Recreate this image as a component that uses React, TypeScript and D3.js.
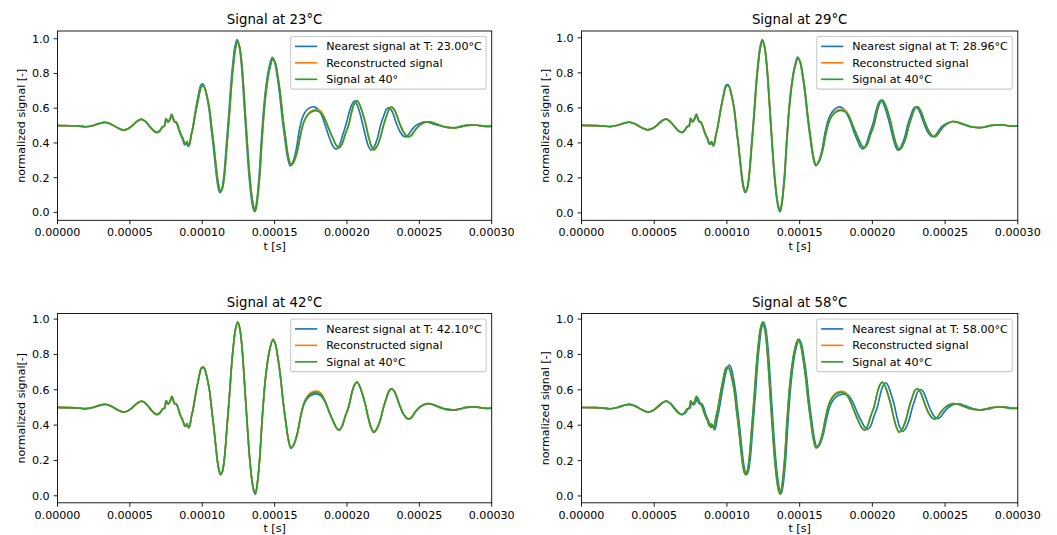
import React, { useEffect, useRef } from 'react';
import * as d3 from 'd3';

type Pt = [number, number]; // [time in µs, normalized value]

const xTicksUs = [0, 50, 100, 150, 200, 250, 300];
const yTicks = [0, 0.2, 0.4, 0.6, 0.8, 1.0];

const signal40: Pt[] = [[0,0.500],[10,0.499],[15,0.497],[19.5,0.493],[24,0.499],[28.5,0.511],[33,0.518],[37,0.508],[41.5,0.487],[45.5,0.474],[49,0.483],[52,0.502],[55.5,0.527],[58.3,0.536],[61,0.522],[64,0.493],[67,0.467],[69,0.460],[71,0.472],[72.6,0.492],[74,0.497],[75.1,0.538],[76.5,0.520],[78,0.540],[79,0.563],[80,0.540],[81,0.522],[82,0.520],[83.2,0.500],[84.3,0.470],[85.5,0.445],[86.7,0.425],[87.8,0.398],[88.6,0.395],[89.4,0.408],[90.2,0.392],[90.8,0.386],[91.6,0.405],[92.5,0.448],[93.5,0.483],[94.5,0.530],[95.9,0.597],[97.2,0.650],[98.3,0.695],[99.3,0.722],[100.5,0.728],[101.6,0.720],[103,0.680],[105,0.597],[106.5,0.490],[108,0.388],[109.5,0.270],[110.8,0.180],[112,0.132],[112.8,0.120],[114,0.140],[115.4,0.218],[117,0.380],[118.9,0.578],[120.3,0.740],[121.7,0.862],[123,0.945],[124.5,0.983],[126,0.945],[127.6,0.830],[129.2,0.640],[130.9,0.426],[132.7,0.220],[134.4,0.085],[135.6,0.030],[136.7,0.010],[137.9,0.060],[139.6,0.200],[141.3,0.420],[143.1,0.615],[144.8,0.740],[146.5,0.824],[148.9,0.885],[150.5,0.860],[152.3,0.780],[154.1,0.672],[155.8,0.540],[157.6,0.426],[159.5,0.320],[161.3,0.272],[163.2,0.290],[165.6,0.350],[168,0.450],[170.2,0.520],[172.5,0.556],[175,0.576],[178.2,0.586],[181.5,0.576],[183.5,0.556],[185.1,0.530],[188,0.470],[190.8,0.417],[192.8,0.384],[194.6,0.372],[196.5,0.392],[198.8,0.450],[201.1,0.502],[203.6,0.590],[205.3,0.630],[206.9,0.644],[208.6,0.624],[210.5,0.580],[212.6,0.520],[214.5,0.450],[216.5,0.390],[218.5,0.360],[220.3,0.375],[222.9,0.426],[225.2,0.500],[227.5,0.559],[229.2,0.596],[231,0.606],[232.8,0.590],[234.4,0.559],[236.5,0.510],[239,0.464],[241.2,0.440],[243.1,0.436],[245,0.448],[247,0.473],[249.5,0.497],[252.8,0.515],[255.5,0.522],[258,0.520],[261,0.512],[264.2,0.502],[268,0.492],[271.5,0.488],[274.5,0.487],[278,0.492],[282,0.500],[286,0.503],[290,0.502],[294,0.497],[297.5,0.495],[300,0.497]];

const reconstructed: Pt[] = [[0,0.500],[10,0.499],[15,0.497],[19.5,0.493],[24,0.499],[28.5,0.511],[33,0.518],[37,0.508],[41.5,0.487],[45.5,0.474],[49,0.483],[52,0.502],[55.5,0.527],[58.3,0.536],[61,0.522],[64,0.493],[67,0.467],[69,0.460],[71,0.472],[72.6,0.492],[74,0.497],[75.1,0.538],[76.5,0.520],[78,0.540],[79,0.563],[80,0.540],[81,0.522],[82,0.520],[83.2,0.500],[84.3,0.470],[85.5,0.445],[86.7,0.425],[87.8,0.398],[88.6,0.395],[89.4,0.408],[90.2,0.392],[90.8,0.386],[91.6,0.405],[92.5,0.448],[93.5,0.483],[94.5,0.530],[95.9,0.597],[97.2,0.650],[98.3,0.695],[99.3,0.722],[100.5,0.728],[101.6,0.720],[103,0.680],[105,0.597],[106.5,0.490],[108,0.388],[109.5,0.270],[110.8,0.180],[112,0.132],[112.8,0.120],[114,0.140],[115.4,0.218],[117,0.380],[118.9,0.578],[120.3,0.740],[121.7,0.862],[123,0.945],[124.5,0.983],[126,0.945],[127.6,0.830],[129.2,0.640],[130.9,0.426],[132.7,0.220],[134.4,0.085],[135.6,0.030],[136.7,0.010],[137.9,0.060],[139.6,0.200],[141.3,0.420],[143.1,0.615],[144.8,0.740],[146.5,0.824],[148.9,0.885],[150.5,0.860],[152.3,0.780],[154.1,0.672],[155.8,0.540],[157.6,0.426],[159.5,0.320],[161.3,0.272],[163.2,0.290],[165.6,0.350],[168,0.450],[170.2,0.522],[172.5,0.560],[175,0.583],[178.5,0.592],[181.5,0.585],[183.5,0.562],[185.1,0.532],[188,0.470],[190.8,0.417],[192.8,0.384],[194.6,0.372],[196.5,0.392],[198.8,0.450],[201.1,0.502],[203.6,0.590],[205.3,0.630],[206.9,0.644],[208.6,0.624],[210.5,0.580],[212.6,0.520],[214.5,0.450],[216.5,0.390],[218.5,0.360],[220.3,0.375],[222.9,0.426],[225.2,0.500],[227.5,0.559],[229.2,0.596],[231,0.606],[232.8,0.590],[234.4,0.559],[236.5,0.510],[239,0.464],[241.2,0.440],[243.1,0.436],[245,0.448],[247,0.473],[249.5,0.497],[252.8,0.515],[255.5,0.522],[258,0.520],[261,0.512],[264.2,0.502],[268,0.492],[271.5,0.488],[274.5,0.487],[278,0.492],[282,0.500],[286,0.503],[290,0.502],[294,0.497],[297.5,0.495],[300,0.497]];

const nearest23: Pt[] = [[0,0.500],[10,0.499],[15,0.497],[19.5,0.493],[24,0.499],[28.5,0.511],[33,0.519],[37,0.508],[41.5,0.487],[45.3,0.474],[49,0.483],[52,0.503],[55.3,0.528],[58,0.537],[60.8,0.522],[63.8,0.493],[66.8,0.467],[68.8,0.459],[70.8,0.472],[72.4,0.492],[73.8,0.497],[74.9,0.540],[76.3,0.522],[77.8,0.542],[78.8,0.565],[79.8,0.540],[80.8,0.522],[81.8,0.518],[83,0.498],[84.1,0.468],[85.3,0.442],[86.5,0.420],[87.6,0.392],[88.4,0.390],[89.2,0.403],[90,0.385],[90.6,0.380],[91.4,0.400],[92.3,0.445],[93.3,0.482],[94.3,0.532],[95.6,0.602],[96.9,0.658],[98,0.705],[99,0.732],[100.1,0.740],[101.2,0.730],[102.6,0.688],[104.6,0.600],[106.1,0.490],[107.6,0.385],[109.1,0.265],[110.4,0.173],[111.6,0.125],[112.4,0.113],[113.6,0.135],[115,0.215],[116.6,0.380],[118.5,0.582],[119.9,0.748],[121.3,0.870],[122.6,0.955],[124.1,0.995],[125.6,0.955],[127.2,0.836],[128.8,0.642],[130.5,0.424],[132.3,0.215],[134,0.078],[135.2,0.022],[136.3,0.004],[137.5,0.055],[139.2,0.198],[140.9,0.422],[142.7,0.620],[144.4,0.748],[146.1,0.832],[148.4,0.893],[150,0.866],[151.8,0.784],[153.6,0.672],[155.3,0.538],[157.1,0.422],[159,0.316],[160.8,0.268],[162.7,0.292],[165,0.365],[167,0.470],[169.2,0.545],[171.5,0.583],[174.3,0.603],[177.3,0.608],[180.5,0.590],[182.5,0.560],[184.2,0.520],[187,0.450],[189.5,0.395],[191.3,0.370],[192.8,0.365],[194.7,0.385],[197,0.445],[199.5,0.510],[202,0.590],[203.6,0.625],[205.2,0.642],[206.9,0.620],[208.8,0.575],[210.8,0.510],[212.8,0.440],[214.8,0.382],[216.7,0.358],[218.5,0.373],[221,0.425],[223.3,0.505],[225.6,0.560],[227.3,0.595],[229,0.604],[230.8,0.588],[232.4,0.556],[234.5,0.505],[237,0.460],[239.2,0.438],[241,0.436],[242.9,0.452],[245,0.478],[247.5,0.500],[251,0.515],[254,0.521],[257,0.517],[260,0.508],[263.5,0.500],[267.5,0.492],[271,0.488],[274.5,0.488],[278,0.494],[282,0.501],[286,0.504],[290,0.502],[294,0.497],[297.5,0.495],[300,0.497]];

const nearest29: Pt[] = [[0,0.500],[10,0.499],[15,0.497],[19.5,0.493],[24,0.499],[28.5,0.511],[33,0.519],[37,0.508],[41.5,0.487],[45.4,0.474],[49,0.483],[52,0.502],[55.4,0.528],[58.2,0.537],[60.9,0.522],[63.9,0.493],[66.9,0.467],[68.9,0.459],[70.9,0.472],[72.5,0.492],[73.9,0.497],[75,0.540],[76.4,0.521],[77.9,0.541],[78.9,0.564],[79.9,0.540],[80.9,0.522],[81.9,0.519],[83.1,0.499],[84.2,0.469],[85.4,0.443],[86.6,0.422],[87.7,0.395],[88.5,0.392],[89.3,0.405],[90.1,0.388],[90.7,0.383],[91.5,0.402],[92.4,0.446],[93.4,0.483],[94.4,0.531],[95.8,0.600],[97.1,0.654],[98.2,0.700],[99.2,0.728],[100.3,0.735],[101.4,0.726],[102.8,0.685],[104.8,0.598],[106.3,0.490],[107.8,0.386],[109.3,0.268],[110.6,0.176],[111.8,0.128],[112.6,0.116],[113.8,0.137],[115.2,0.216],[116.8,0.380],[118.7,0.580],[120.1,0.744],[121.5,0.866],[122.8,0.950],[124.3,0.990],[125.8,0.950],[127.4,0.833],[129,0.641],[130.7,0.425],[132.5,0.218],[134.2,0.082],[135.4,0.026],[136.5,0.007],[137.7,0.058],[139.4,0.199],[141.1,0.421],[142.9,0.618],[144.6,0.744],[146.3,0.828],[148.6,0.890],[150.2,0.863],[152,0.782],[153.8,0.672],[155.5,0.539],[157.3,0.424],[159.2,0.318],[161,0.270],[162.9,0.291],[165.3,0.357],[167.5,0.460],[169.7,0.532],[172,0.572],[174.8,0.597],[177.8,0.606],[181,0.588],[183,0.558],[184.7,0.525],[187.5,0.460],[190.2,0.405],[192,0.374],[193.7,0.366],[195.6,0.388],[197.9,0.448],[200.3,0.506],[202.8,0.592],[204.4,0.630],[206,0.645],[207.7,0.622],[209.6,0.578],[211.7,0.515],[213.7,0.445],[215.7,0.386],[217.6,0.358],[219.4,0.374],[222,0.426],[224.3,0.503],[226.6,0.560],[228.3,0.596],[230.1,0.606],[231.9,0.589],[233.5,0.557],[235.6,0.508],[238.1,0.462],[240.3,0.439],[242.1,0.436],[244,0.450],[246,0.475],[248.5,0.498],[252,0.515],[255,0.522],[258,0.518],[261,0.509],[264,0.501],[268,0.492],[271.5,0.488],[274.5,0.488],[278,0.493],[282,0.500],[286,0.503],[290,0.502],[294,0.497],[297.5,0.495],[300,0.497]];

const nearest42: Pt[] = [[0,0.499],[10,0.498],[15,0.496],[19.5,0.492],[24,0.498],[28.5,0.510],[33,0.517],[37,0.507],[41.5,0.486],[45.5,0.473],[49,0.482],[52,0.501],[55.5,0.526],[58.3,0.535],[61,0.521],[64,0.492],[67,0.466],[69,0.459],[71,0.471],[72.6,0.491],[74,0.496],[75.1,0.537],[76.5,0.519],[78,0.539],[79,0.562],[80,0.539],[81,0.521],[82,0.519],[83.2,0.499],[84.3,0.469],[85.5,0.444],[86.7,0.424],[87.8,0.397],[88.6,0.394],[89.4,0.407],[90.2,0.391],[90.8,0.385],[91.6,0.404],[92.5,0.447],[93.5,0.482],[94.5,0.529],[95.9,0.596],[97.2,0.649],[98.3,0.694],[99.3,0.721],[100.5,0.727],[101.6,0.719],[103,0.679],[105,0.596],[106.5,0.489],[108,0.387],[109.5,0.269],[110.8,0.179],[112,0.131],[112.8,0.119],[114,0.139],[115.4,0.217],[117,0.379],[118.9,0.577],[120.3,0.739],[121.7,0.861],[123,0.944],[124.5,0.982],[126,0.944],[127.6,0.829],[129.2,0.639],[130.9,0.425],[132.7,0.219],[134.4,0.084],[135.6,0.029],[136.7,0.009],[137.9,0.059],[139.6,0.199],[141.3,0.419],[143.1,0.614],[144.8,0.739],[146.5,0.823],[148.9,0.884],[150.5,0.859],[152.3,0.779],[154.1,0.671],[155.8,0.539],[157.6,0.425],[159.5,0.318],[161.3,0.268],[163.2,0.287],[165.6,0.348],[168,0.448],[170.2,0.516],[172.5,0.550],[175,0.568],[178.2,0.577],[181.5,0.569],[183.5,0.551],[185.1,0.527],[188,0.468],[190.8,0.415],[192.8,0.382],[194.6,0.370],[196.5,0.390],[198.8,0.449],[201.1,0.501],[203.6,0.589],[205.3,0.629],[206.9,0.643],[208.6,0.623],[210.5,0.579],[212.6,0.519],[214.5,0.449],[216.5,0.389],[218.5,0.358],[220.3,0.373],[222.9,0.425],[225.2,0.499],[227.5,0.558],[229.2,0.595],[231,0.605],[232.8,0.589],[234.4,0.558],[236.5,0.509],[239,0.462],[241.2,0.438],[243.1,0.434],[245,0.446],[247,0.471],[249.5,0.495],[252.8,0.513],[255.5,0.520],[258,0.518],[261,0.509],[264.2,0.499],[268,0.489],[271.5,0.485],[274.5,0.485],[278,0.490],[282,0.498],[286,0.502],[290,0.501],[294,0.496],[297.5,0.494],[300,0.496]];

const nearest58: Pt[] = [[0,0.500],[10,0.499],[15,0.497],[19.5,0.493],[24,0.499],[28.7,0.511],[33.2,0.518],[37.2,0.508],[41.8,0.487],[45.8,0.474],[49.3,0.483],[52.4,0.502],[55.9,0.527],[58.7,0.536],[61.4,0.522],[64.5,0.493],[67.5,0.467],[69.6,0.460],[71.6,0.472],[73.3,0.492],[74.7,0.497],[75.8,0.530],[77.2,0.515],[78.8,0.535],[79.8,0.558],[80.8,0.538],[81.8,0.525],[82.9,0.520],[84.1,0.498],[85.2,0.468],[86.4,0.442],[87.6,0.420],[88.7,0.392],[89.5,0.388],[90.3,0.398],[91.1,0.380],[91.7,0.375],[92.5,0.398],[93.4,0.440],[94.4,0.478],[95.4,0.525],[96.8,0.595],[98.1,0.650],[99.2,0.696],[100.3,0.726],[101.5,0.740],[102.6,0.730],[104,0.685],[105.8,0.600],[107.3,0.490],[108.8,0.386],[110.2,0.270],[111.5,0.180],[112.7,0.132],[113.5,0.120],[114.7,0.140],[116.1,0.218],[117.7,0.380],[119.6,0.578],[121,0.740],[122.4,0.862],[123.7,0.945],[125.2,0.983],[126.7,0.945],[128.3,0.830],[129.9,0.640],[131.6,0.426],[133.4,0.220],[135.1,0.088],[136.3,0.034],[137.4,0.015],[138.6,0.062],[140.3,0.200],[142,0.420],[143.8,0.615],[145.5,0.740],[147.2,0.824],[149.6,0.885],[151.2,0.860],[153,0.780],[154.8,0.672],[156.5,0.540],[158.3,0.426],[160.2,0.320],[162,0.274],[163.9,0.292],[166.3,0.350],[168.8,0.448],[171.2,0.515],[173.8,0.550],[176.5,0.568],[179.7,0.575],[183,0.572],[185,0.553],[186.6,0.530],[189.7,0.470],[192.8,0.418],[195,0.386],[196.9,0.377],[198.8,0.395],[201.1,0.450],[203.4,0.502],[205.9,0.588],[207.6,0.628],[209.2,0.640],[210.9,0.622],[212.8,0.578],[214.9,0.520],[216.8,0.450],[218.8,0.390],[220.8,0.365],[222.6,0.378],[225.2,0.428],[227.5,0.500],[229.8,0.558],[231.5,0.595],[233.3,0.602],[235.1,0.588],[236.7,0.557],[238.8,0.510],[241.3,0.465],[243.5,0.442],[245.4,0.438],[247.3,0.450],[249.3,0.474],[251.8,0.496],[255,0.514],[257.8,0.521],[260.5,0.519],[263.5,0.511],[266.5,0.502],[270,0.492],[273.5,0.487],[276.5,0.487],[280,0.492],[284,0.500],[288,0.503],[292,0.502],[296,0.497],[300,0.496]];

const panelTitles = ['Signal at 23°C', 'Signal at 29°C', 'Signal at 42°C', 'Signal at 58°C'];
const nearestLabels = ['Nearest signal at T: 23.00°C', 'Nearest signal at T: 28.96°C', 'Nearest signal at T: 42.10°C', 'Nearest signal at T: 58.00°C'];
const reconstructedLabel = 'Reconstructed signal';
const signal40Labels = ['Signal at 40°', 'Signal at 40°C', 'Signal at 40°C', 'Signal at 40°C'];
const yLabels = ['normalized signal [-]', 'normalized signal [-]', 'normalized signal[-]', 'normalized signal [-]'];
const xLabel = 't [s]';
const nearestSeries = [nearest23, nearest29, nearest42, nearest58];

const COLORS = { blue: '#1f77b4', orange: '#ff7f0e', green: '#2ca02c' };
const FONT = 'DejaVu Sans, sans-serif';
const FS = 11.1;
const COLS: [number, number][] = [[57.5, 491.7], [581.5, 1017.8]];
const ROWS: [number, number][] = [[31, 220.3], [313.5, 502.8]];

export default function App() {
  const ref = useRef<SVGSVGElement>(null);

  useEffect(() => {
    const svg = d3.select(ref.current);
    svg.selectAll('*').remove();

    panelTitles.forEach((title, i) => {
      const [x0, x1] = COLS[i % 2];
      const [y0, y1] = ROWS[Math.floor(i / 2)];
      const series: { data: Pt[]; color: string; label: string }[] = [
        { data: nearestSeries[i], color: COLORS.blue, label: nearestLabels[i] },
        { data: reconstructed, color: COLORS.orange, label: reconstructedLabel },
        { data: signal40, color: COLORS.green, label: signal40Labels[i] },
      ];
      const allVals = series.flatMap((s) => s.data.map((d) => d[1]));
      const [mn, mx] = d3.extent(allVals) as [number, number];
      const pad = (mx - mn) * 0.05;

      const x = d3.scaleLinear().domain([0, 300]).range([x0, x1]);
      const y = d3.scaleLinear().domain([mn - pad, mx + pad]).range([y1, y0]);

      const g = svg.append('g');
      const clipId = `clip-${i}`;
      g.append('clipPath').attr('id', clipId)
        .append('rect').attr('x', x0).attr('y', y0).attr('width', x1 - x0).attr('height', y1 - y0);

      const line = d3.line<Pt>().x((d) => x(d[0])).y((d) => y(d[1])).curve(d3.curveCatmullRom.alpha(0.5));
      const lg = g.append('g').attr('clip-path', `url(#${clipId})`);
      series.forEach((s) => {
        lg.append('path').attr('d', line(s.data) as string)
          .attr('fill', 'none').attr('stroke', s.color).attr('stroke-width', 1.67)
          .attr('stroke-linejoin', 'round').attr('stroke-linecap', 'square');
      });

      // spines
      g.append('rect').attr('x', x0).attr('y', y0).attr('width', x1 - x0).attr('height', y1 - y0)
        .attr('fill', 'none').attr('stroke', '#000').attr('stroke-width', 0.89);

      // x ticks
      xTicksUs.forEach((t) => {
        const px = x(t);
        g.append('line').attr('x1', px).attr('x2', px).attr('y1', y1).attr('y2', y1 + 3.9)
          .attr('stroke', '#000').attr('stroke-width', 0.89);
        g.append('text').attr('x', px).attr('y', y1 + 15.9).attr('text-anchor', 'middle')
          .attr('font-family', FONT).attr('font-size', FS).attr('fill', '#000')
          .text((t * 1e-6).toFixed(5));
      });
      // y ticks
      yTicks.forEach((v) => {
        const py = y(v);
        g.append('line').attr('x1', x0 - 3.9).attr('x2', x0).attr('y1', py).attr('y2', py)
          .attr('stroke', '#000').attr('stroke-width', 0.89);
        g.append('text').attr('x', x0 - 7.8).attr('y', py + 4).attr('text-anchor', 'end')
          .attr('font-family', FONT).attr('font-size', FS).attr('fill', '#000')
          .text(v.toFixed(1));
      });

      // title
      g.append('text').attr('x', (x0 + x1) / 2).attr('y', y0 - 6.7).attr('text-anchor', 'middle')
        .attr('font-family', FONT).attr('font-size', 13.3).attr('fill', '#000').text(title);
      // x label
      g.append('text').attr('x', (x0 + x1) / 2).attr('y', y1 + 29.5).attr('text-anchor', 'middle')
        .attr('font-family', FONT).attr('font-size', FS).attr('fill', '#000').text(xLabel);
      // y label
      g.append('text').attr('transform', `translate(${x0 - 32.7},${(y0 + y1) / 2}) rotate(-90)`)
        .attr('text-anchor', 'middle')
        .attr('font-family', FONT).attr('font-size', FS).attr('fill', '#000').text(yLabels[i]);

      // legend
      const leg = g.append('g');
      const box = leg.append('rect');
      const pad4 = 4.4, hl = 22.2, htp = 8.9, rowH = 10.9, spacing = 5.55;
      const texts = series.map((s) =>
        leg.append('text').attr('font-family', FONT).attr('font-size', FS).attr('fill', '#000').text(s.label)
      );
      const maxW = d3.max(texts.map((t) => (t.node() as SVGTextElement).getComputedTextLength())) || 150;
      const w = pad4 + hl + htp + maxW + pad4;
      const h = 2 * pad4 + 3 * rowH + 2 * spacing;
      const lx = x1 - 5.55 - w;
      const ly = y0 + 5.55;
      box.attr('x', lx).attr('y', ly).attr('width', w).attr('height', h).attr('rx', 2.2)
        .attr('fill', 'white').attr('fill-opacity', 0.8)
        .attr('stroke', '#cccccc').attr('stroke-width', 1.1);
      series.forEach((s, k) => {
        const cy = ly + pad4 + rowH / 2 + k * (rowH + spacing);
        leg.append('line').attr('x1', lx + pad4).attr('x2', lx + pad4 + hl).attr('y1', cy).attr('y2', cy)
          .attr('stroke', s.color).attr('stroke-width', 1.67);
        texts[k].attr('x', lx + pad4 + hl + htp).attr('y', cy + 4);
      });
    });
  }, []);

  return (
    <svg ref={ref} width={1057} height={535}
      style={{ position: 'absolute', left: 0, top: 0, background: '#fff' }} />
  );
}
